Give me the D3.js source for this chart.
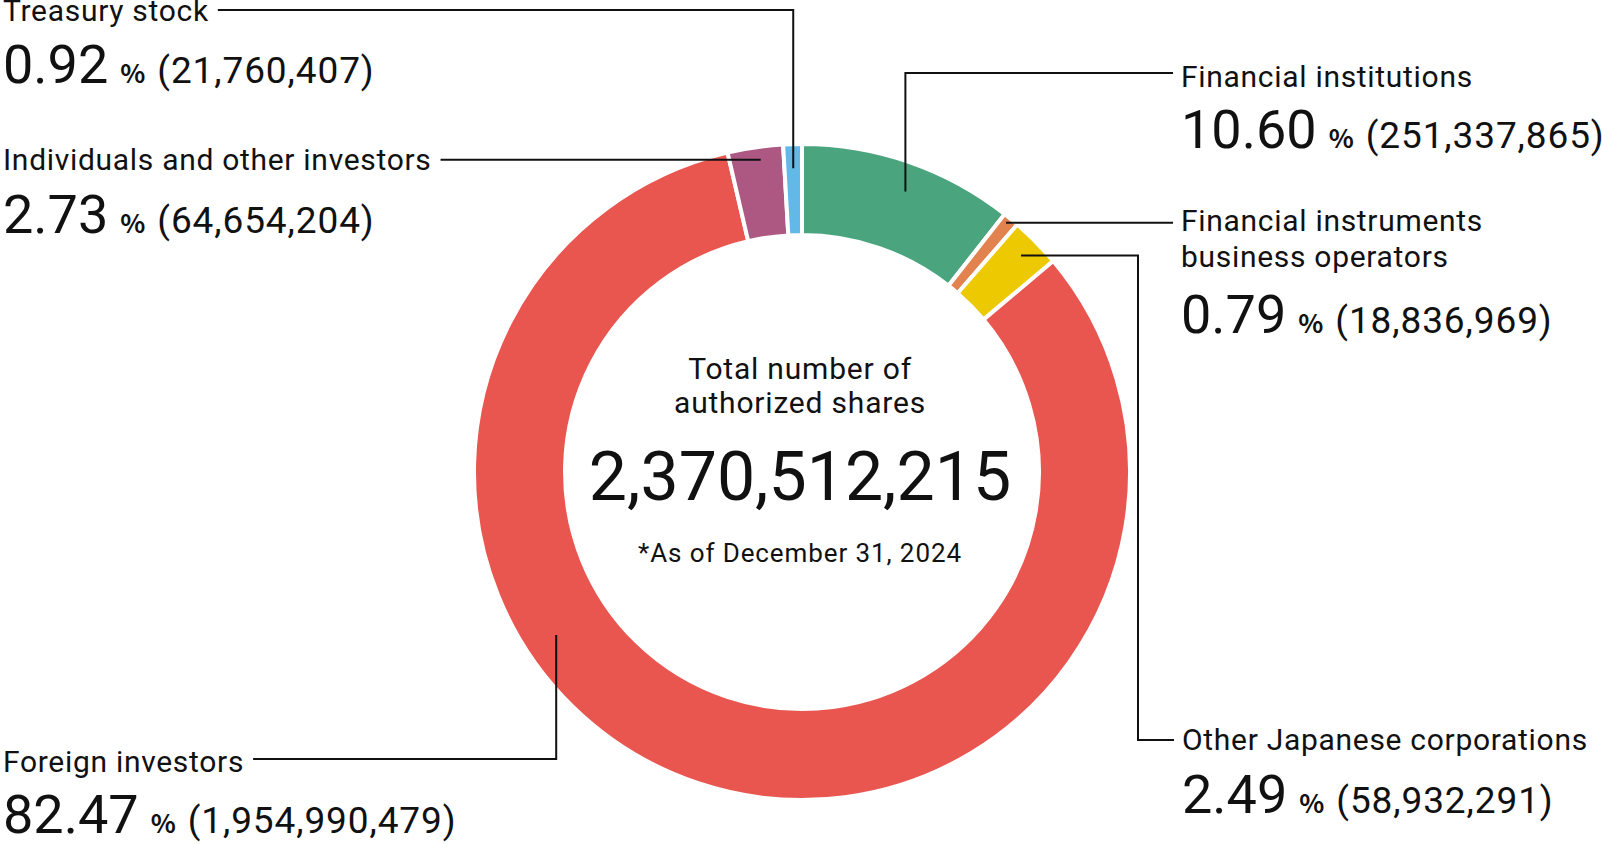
<!DOCTYPE html>
<html>
<head>
<meta charset="utf-8">
<script src="https://cdn.jsdelivr.net/npm/d3@7"></script>
<style>
  html, body { margin: 0; padding: 0; background: #fff; }
  svg { display: block; font-family: Roboto, "Noto Sans", sans-serif; }
</style>
</head>
<body>
<svg id="chart" width="1602" height="844"></svg>
<script>
// ---- data ----
const categories = [
  "Financial institutions",
  "Financial instruments business operators",
  "Other Japanese corporations",
  "Foreign investors",
  "Individuals and other investors",
  "Treasury stock"
];
const percents = ["10.60", "0.79", "2.49", "82.47", "2.73", "0.92"];
const shares = [251337865, 18836969, 58932291, 1954990479, 64654204, 21760407];
const colors = ["#4aa47e", "#e2824e", "#ecc900", "#e9554f", "#ad5882", "#62b8e6"];
const totalLabel = ["Total number of", "authorized shares"];
const totalValue = 2370512215;
const asOf = "*As of December 31, 2024";

// ---- layout (not data) ----
const cx = 802, cy = 472, rOuter = 328, rInner = 237;
const labelLines = [
  ["Financial institutions"],
  ["Financial instruments", "business operators"],
  ["Other Japanese corporations"],
  ["Foreign investors"],
  ["Individuals and other investors"],
  ["Treasury stock"]
];
const anchorFrac = [0.53, 0.4, 0.48, 0.628, 0.57, 0.5];
const anchorRad = [299, 322, 308, 295, 315, 304];
const side = ["right", "right", "right", "left", "left", "left"];
const labelX = [1181, 1181, 1182, 3, 3, 3];
const labelBase = [87, 231, 750, 772, 170, 21];
const numBase = [148, 333, 813, 833, 233, 83];
const lineY = [73, null, 740, 759, null, 10];
const route = ["vh", "h", "hvh", "vh", "h", "vh"];
const bendX = [null, null, 1138, null, null, null];

const svg = d3.select("#chart");
const fmt = d3.format(",");

const pie = d3.pie().sort(null).value(d => d).startAngle(0).endAngle(2 * Math.PI);
const arcs = pie(shares);
const arc = d3.arc().innerRadius(rInner).outerRadius(rOuter);

const g = svg.append("g").attr("transform", `translate(${cx},${cy})`);
g.selectAll("path.slice")
  .data(arcs)
  .join("path")
  .attr("class", "slice")
  .attr("d", arc)
  .attr("fill", (d, i) => colors[i])
  .attr("stroke", "#fff")
  .attr("stroke-width", 4)
  .attr("stroke-linejoin", "miter");

// center text
const ct = svg.append("g").attr("fill", "#111").attr("text-anchor", "middle");
ct.append("text").attr("x", cx - 2).attr("y", 379).attr("font-size", 30).attr("letter-spacing", 0.8).text(totalLabel[0]);
ct.append("text").attr("x", cx - 2).attr("y", 413).attr("font-size", 30).attr("letter-spacing", 0.8).text(totalLabel[1]);
ct.append("text").attr("x", cx - 2).attr("y", 500).attr("font-size", 68).text(fmt(totalValue));
ct.append("text").attr("x", cx - 2).attr("y", 562).attr("font-size", 26).attr("letter-spacing", 0.9).text(asOf);

// labels
const labels = svg.append("g").attr("fill", "#111");
arcs.forEach((a, i) => {
  const lg = labels.append("g");
  const lines = labelLines[i];
  const t = lg.append("text").attr("font-size", 30).attr("letter-spacing", 0.7);
  lines.forEach((ln, k) => {
    t.append("tspan").attr("x", labelX[i]).attr("y", labelBase[i] + k * 36).text(ln);
  });
  const nt = lg.append("text").attr("x", labelX[i]).attr("y", numBase[i]);
  nt.append("tspan").attr("font-size", 54).text(percents[i]);
  nt.append("tspan").attr("font-size", 26).attr("font-weight", 700)
    .attr("font-family", "'Noto Sans CJK JP', 'Noto Sans', sans-serif")
    .attr("dx", 12).text("%");
  nt.append("tspan").attr("font-size", 37).attr("letter-spacing", 0.9).attr("dx", 12)
    .text("(" + fmt(shares[i]) + ")");

  // leader
  const ang = a.startAngle + (a.endAngle - a.startAngle) * anchorFrac[i];
  const ax = cx + anchorRad[i] * Math.sin(ang);
  const ay = cy - anchorRad[i] * Math.cos(ang);
  const firstLen = t.select("tspan").node().getComputedTextLength();
  let pts;
  if (side[i] === "left") {
    const endX = labelX[i] + firstLen + 9;
    if (route[i] === "vh") pts = [[ax, ay], [ax, lineY[i]], [endX, lineY[i]]];
    else pts = [[ax, ay], [endX, ay]];
  } else {
    const endX = labelX[i] - 8;
    if (route[i] === "vh") pts = [[ax, ay], [ax, lineY[i]], [endX, lineY[i]]];
    else if (route[i] === "hvh") pts = [[ax, ay], [bendX[i], ay], [bendX[i], lineY[i]], [endX, lineY[i]]];
    else pts = [[ax, ay], [endX, ay]];
  }
  svg.append("path")
    .attr("d", d3.line()(pts))
    .attr("fill", "none")
    .attr("stroke", "#111")
    .attr("stroke-width", 2);
});
</script>
</body>
</html>
